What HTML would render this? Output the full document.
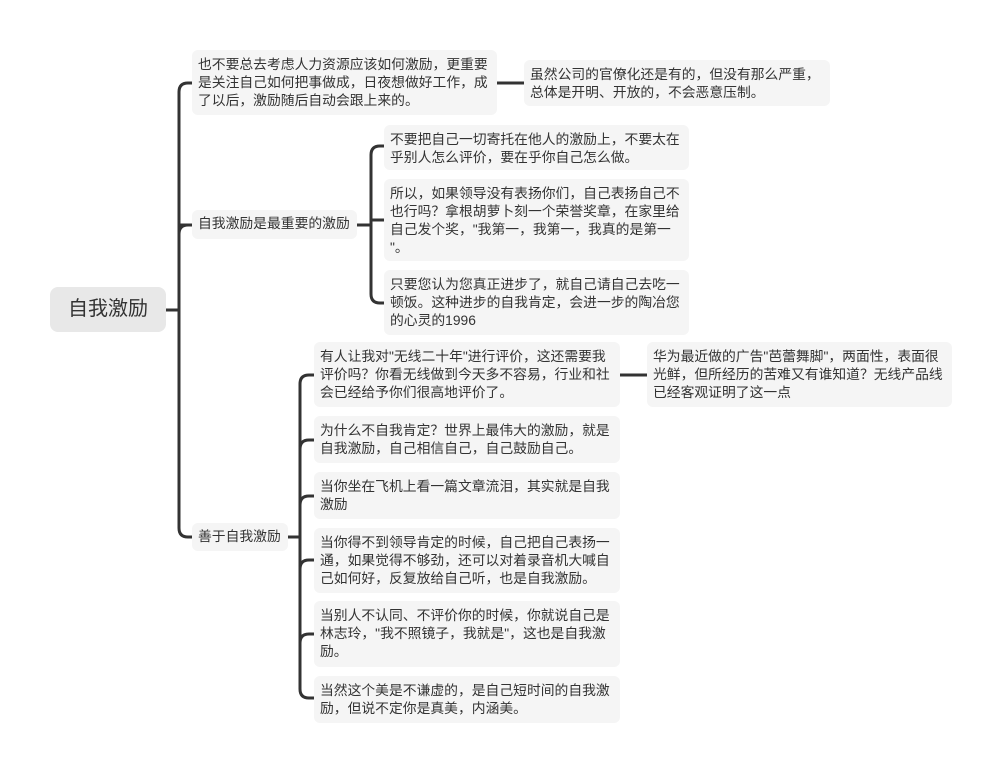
<!DOCTYPE html>
<html><head><meta charset="utf-8"><style>
body{margin:0;width:1002px;height:774px;background:#fff;position:relative;overflow:hidden;font-family:"Liberation Sans","Noto Sans CJK SC",sans-serif;}
.n{position:absolute;background:#f5f5f5;border-radius:6px;color:#333;font-size:13.8px;line-height:18px;padding:6px 6px;box-sizing:border-box;white-space:nowrap;}
.r{position:absolute;left:50px;top:287px;width:116px;height:45px;background:#e8e8e8;border-radius:8px;color:#333;font-size:20px;line-height:45px;text-align:center;}
svg{position:absolute;left:0;top:0;}
</style></head><body>
<svg width="1002" height="774" fill="none" stroke="#333" stroke-width="3">
<path d="M166 310 H179"/>
<path d="M192 83 H188 Q179 83 179 92 V528 Q179 537 188 537 H192"/>
<path d="M179 225 Q179 225 188 225 H192" />
<path d="M179 234 Q179 225 188 225"/>
<path d="M497 83 H524"/>
<path d="M357 225 H371"/>
<path d="M384 146 H380 Q371 146 371 155 V294 Q371 303 380 303 H384"/>
<path d="M371 220 H384"/>
<path d="M288 537 H300"/>
<path d="M314 375 H309 Q300 375 300 384 V689 Q300 698 309 698 H314"/>
<path d="M300 449 Q300 440 309 440 H314"/>
<path d="M300 505 Q300 496 309 496 H314"/>
<path d="M300 569 Q300 560 309 560 H314"/>
<path d="M300 643 Q300 634 309 634 H314"/>
<path d="M620 375 H647"/>
</svg>
<div class="r">自我激励</div>
<div class="n" style="left:192px;top:50px;width:305px;height:65px">也不要总去考虑人力资源应该如何激励，更重要<br>是关注自己如何把事做成，日夜想做好工作，成<br>了以后，激励随后自动会跟上来的。</div>
<div class="n" style="left:524px;top:60px;width:306px;height:46px">虽然公司的官僚化还是有的，但没有那么严重，<br>总体是开明、开放的，不会恶意压制。</div>
<div class="n" style="left:192px;top:210px;width:165px;height:29px;padding-top:5px">自我激励是最重要的激励</div>
<div class="n" style="left:384px;top:125px;width:305px;height:45px">不要把自己一切寄托在他人的激励上，不要太在<br>乎别人怎么评价，要在乎你自己怎么做。</div>
<div class="n" style="left:384px;top:179px;width:305px;height:82px">所以，如果领导没有表扬你们，自己表扬自己不<br>也行吗？拿根胡萝卜刻一个荣誉奖章，在家里给<br>自己发个奖，"我第一，我第一，我真的是第一<br>"。</div>
<div class="n" style="left:384px;top:270px;width:305px;height:65px">只要您认为您真正进步了，就自己请自己去吃一<br>顿饭。这种进步的自我肯定，会进一步的陶冶您<br>的心灵的1996</div>
<div class="n" style="left:192px;top:523px;width:96px;height:28px;padding-top:5px">善于自我激励</div>
<div class="n" style="left:314px;top:342px;width:306px;height:65px">有人让我对"无线二十年"进行评价，这还需要我<br>评价吗？你看无线做到今天多不容易，行业和社<br>会已经给予你们很高地评价了。</div>
<div class="n" style="left:647px;top:342px;width:305px;height:65px">华为最近做的广告"芭蕾舞脚"，两面性，表面很<br>光鲜，但所经历的苦难又有谁知道？无线产品线<br>已经客观证明了这一点</div>
<div class="n" style="left:314px;top:416px;width:306px;height:47px">为什么不自我肯定？世界上最伟大的激励，就是<br>自我激励，自己相信自己，自己鼓励自己。</div>
<div class="n" style="left:314px;top:472px;width:306px;height:47px">当你坐在飞机上看一篇文章流泪，其实就是自我<br>激励</div>
<div class="n" style="left:314px;top:528px;width:306px;height:65px">当你得不到领导肯定的时候，自己把自己表扬一<br>通，如果觉得不够劲，还可以对着录音机大喊自<br>己如何好，反复放给自己听，也是自我激励。</div>
<div class="n" style="left:314px;top:601px;width:306px;height:66px">当别人不认同、不评价你的时候，你就说自己是<br>林志玲，"我不照镜子，我就是"，这也是自我激<br>励。</div>
<div class="n" style="left:314px;top:676px;width:306px;height:47px">当然这个美是不谦虚的，是自己短时间的自我激<br>励，但说不定你是真美，内涵美。</div>
</body></html>
